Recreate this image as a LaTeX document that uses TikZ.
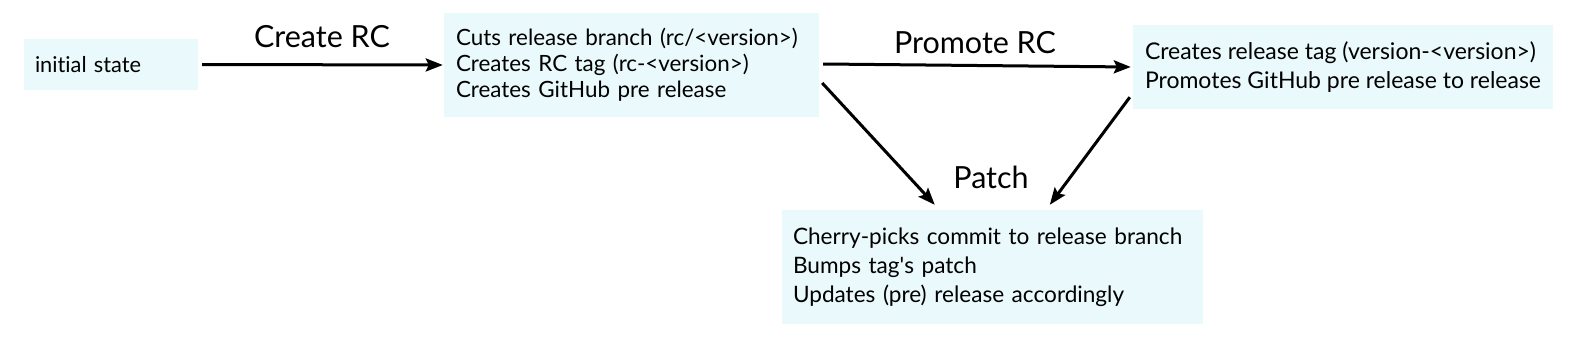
\documentclass[tikz,border=0pt]{standalone}
\usepackage{fontspec}
\setmainfont[Ligatures={NoCommon}]{Lato}
\usetikzlibrary{arrows.meta,calc}
\definecolor{boxfill}{HTML}{EAF9FB}
\tikzset{
  state/.style={fill=boxfill, inner xsep=0pt, inner ysep=0pt, align=left, anchor=center},
  arr/.style={line width=3pt, -{Stealth[length=17pt,width=13pt,inset=3pt]}},
  lbl/.style={font=\fontsize{30.5}{34}\selectfont, anchor=base, inner sep=0pt},
}
\begin{document}
\begin{tikzpicture}[x=1pt,y=-1pt]
\useasboundingbox (0,0) rectangle (1570,345);
\node[state, minimum width=174pt, minimum height=51pt, text width=152pt, font=\fontsize{21.8}{26}\selectfont] (init) at (111,64.5) {initial state};
\node[state, minimum width=375pt, minimum height=104pt, text width=351pt, font=\fontsize{22.4}{26}\selectfont] (rc) at (631.5,65) {Cuts release branch (rc/<version>)\\Creates RC tag (rc-<version>)\\Creates GitHub pre release};
\node[state, minimum width=420pt, minimum height=84pt, font=\fontsize{23}{29}\selectfont] (rel) at (1343,67) {Creates release tag (version-<version>)\\Promotes GitHub pre release to release};
\node[state, minimum width=421pt, minimum height=114pt, text width=399pt, font=\fontsize{22.6}{29}\selectfont] (patch) at (992.5,267) {Cherry-picks commit to release branch\\Bumps tag\textquotesingle s patch\\Updates (pre) release accordingly};
\node[lbl] (lcreate) at (322,48) {Create RC};
\node[lbl] (lpromote) at (975,54) {Promote RC};
\node[lbl] (lpatch) at (991,188) {Patch};
\draw[arr] ([xshift=4pt]init.east) -- ([xshift=-1pt]rc.west);
\draw[arr] ([xshift=4pt,yshift=1pt]rc.east) -- ([xshift=-2pt]rel.west);
\draw[arr] ($(rc.east)+(3,18)$) -- ($(patch.north west)+(153,-5)$);
\draw[arr] ($(rel.south west)+(-3,-12)$) -- ($(patch.north west)+(268,-5)$);
\end{tikzpicture}
\end{document}
